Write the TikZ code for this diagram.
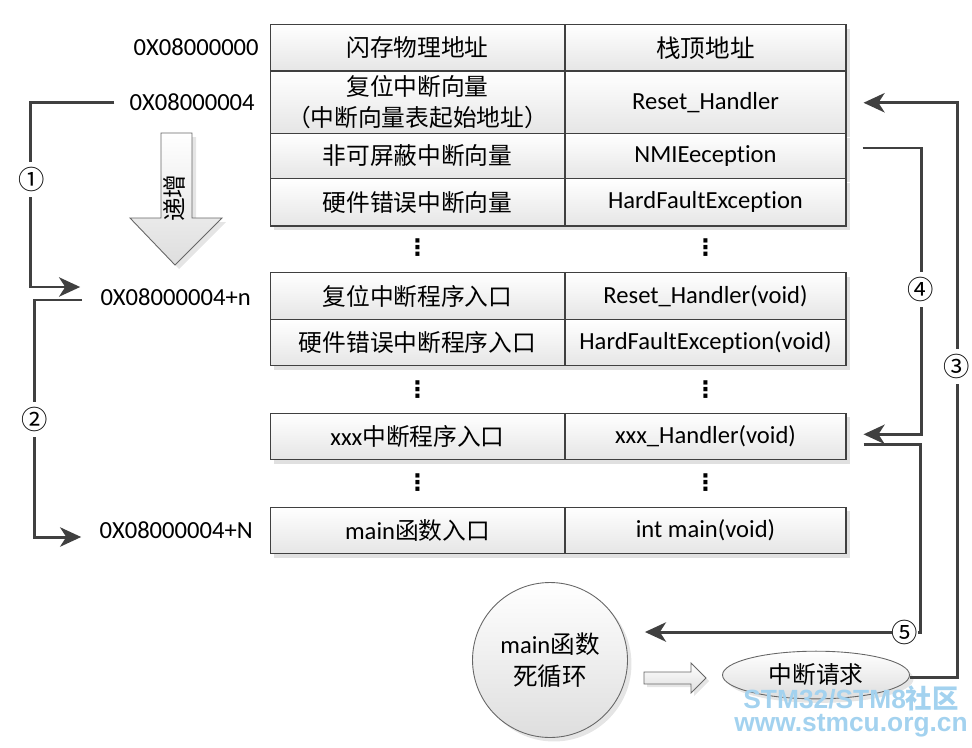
\documentclass[tikz,border=0pt]{standalone}
\usepackage{fontspec}
\setmainfont{Carlito}[Ligatures=NoCommon]
\newfontfamily\cjkfont{Noto Sans CJK SC}
\newfontfamily\wmfont{Liberation Sans}
\newfontfamily\symfont{DejaVu Sans}
\usetikzlibrary{calc,shapes.geometric,shadows,arrows.meta}
\definecolor{linkgray}{HTML}{404040}
\definecolor{wmblue}{HTML}{A3D2EF}
\tikzset{
	cell/.style={draw=linkgray, line width=0.6pt, top color=white, bottom color=black!10,
		drop shadow={shadow xshift=0.08cm, shadow yshift=-0.08cm, fill=black!12, opacity=1},
		minimum height=0.93cm, inner sep=0pt, align=center},
	lcell/.style={cell, minimum width=5.9cm, font=\cjkfont\fontsize{13.5}{18}\selectfont},
	rcell/.style={cell, minimum width=5.62cm, font=\fontsize{14}{17}\selectfont},
	addr/.style={inner sep=0pt, anchor=east, font=\fontsize{14}{17}\selectfont},
	dots/.style={inner sep=0pt, font=\symfont\bfseries\fontsize{13}{13}\selectfont},
	link/.style={draw=linkgray, line width=1.7pt},
	num/.style={fill=white, inner sep=0pt, minimum height=0.7cm, font=\cjkfont\fontsize{15}{15}\selectfont},
	soft/.style={draw=black!60, line width=0.5pt, top color=white, bottom color=black!13},
	softshadow/.style={fill=black!10},
	mark text/.style={inner sep=0pt, text=wmblue, font=\wmfont\bfseries\fontsize{15}{15}\selectfont},
}
\begin{document}
\begin{tikzpicture}[x=0.02cm, y=-0.02cm, >={Stealth[length=12pt,width=11pt,inset=3.5pt]}]
	\useasboundingbox (0,0) rectangle (972,747);

	% vector table
	\node[lcell] (flash) at (417.5,47.75) {闪存物理地址};
	\node[rcell] (stack) at (705.5,47.75) {{\cjkfont 栈顶地址}};
	\node[lcell, minimum height=1.25cm] (resetv) at (417.5,102.25) {复位中断向量\\（中断向量表起始地址）};
	\node[rcell, minimum height=1.25cm] (reset) at (705.5,102.25) {Reset\_Handler};
	\node[lcell, minimum height=0.9cm] (nmiv) at (417.5,156) {非可屏蔽中断向量};
	\node[rcell, minimum height=0.9cm] (nmi) at (705.5,156) {NMIEeception};
	\node[lcell, minimum height=0.95cm] (hardv) at (417.5,202.25) {硬件错误中断向量};
	\node[rcell, minimum height=0.95cm] (hard) at (705.5,202.25) {HardFaultException};
	\node[dots] (d1l) at (417.5,248) {⋮};
	\node[dots] (d1r) at (705.5,248) {⋮};

	% handler entries
	\node[lcell] (resete) at (417.5,296.15) {复位中断程序入口};
	\node[rcell] (resetr) at (705.5,296.15) {Reset\_Handler(void)};
	\node[lcell] (harde) at (417.5,342.65) {硬件错误中断程序入口};
	\node[rcell] (hardr) at (705.5,342.65) {HardFaultException(void)};
	\node[dots] (d2l) at (417.5,390) {⋮};
	\node[dots] (d2r) at (705.5,390) {⋮};
	\node[lcell] (xxxe) at (417.5,436.3) {{\rmfamily\fontsize{14}{17}\selectfont xxx}中断程序入口};
	\node[rcell] (xxxr) at (705.5,436.3) {xxx\_Handler(void)};
	\node[dots] (d3l) at (417.5,483) {⋮};
	\node[dots] (d3r) at (705.5,483) {⋮};
	\node[lcell] (maine) at (417.5,530.35) {{\rmfamily\fontsize{14}{17}\selectfont main}函数入口};
	\node[rcell] (mainr) at (705.5,530.35) {int main(void)};

	% addresses
	\node[addr] (a0) at (259,47) {0X08000000};
	\node[addr] (a4) at (255,101.7) {0X08000004};
	\node[addr] (an) at (251,296.7) {0X08000004+n};
	\node[addr] (aN) at (253,530) {0X08000004+N};

	% growing direction
	\fill[softshadow] (165,137) -- (196,137) -- (196,222) -- (226,222) -- (179,269) -- (134,222) -- (165,222) -- cycle;
	\shade[soft] (161,133) -- (192,133) -- (192,218) -- (222,218) -- (175,265) -- (130,218) -- (161,218) -- cycle;
	\node[rotate=90, inner sep=0pt, font=\cjkfont\fontsize{13.5}{14}\selectfont] (grow) at (174,198) {递增};

	% main loop and interrupt request
	\node[circle, soft, minimum size=3.1cm, align=center, font=\fontsize{14}{18}\selectfont,
		drop shadow={shadow xshift=0.08cm, shadow yshift=-0.08cm, fill=black!10, opacity=1}] (main) at (550,660) {main{\cjkfont 函数}\\{\cjkfont 死循环}};
	\node[ellipse, soft, minimum width=3.74cm, minimum height=0.8cm, font=\cjkfont\fontsize{13.5}{14}\selectfont,
		drop shadow={shadow xshift=0.08cm, shadow yshift=-0.08cm, fill=black!10, opacity=1}] (irq) at (816,675) {中断请求};
	\fill[softshadow] (647,675) -- (694,675) -- (694,666) -- (709,681) -- (694,696) -- (694,687) -- (647,687) -- cycle;
	\shade[soft] (644,672) -- (691,672) -- (691,663) -- (706,678) -- (691,693) -- (691,684) -- (644,684) -- cycle;

	% flow
	\draw[link,->] ($(a4.west)+(-15,1)$) -| ($(an.west)+(-70,-9.7)$) -- ($(an.west)+(-20,-9.7)$);
	\draw[link,->] ($(an.west)+(-18,3.3)$) -| ($(aN.west)+(-65,7)$) -- ($(aN.west)+(-18,7)$);
	\draw[link,->] ($(irq.east)+(0,2)$) -| ($(reset.east)+(111,0.5)$) -- ($(reset.east)+(17,0.5)$);
	\draw[link,->] ($(nmi.east)+(16,-8)$) -| ($(xxxr.east)+(75,-2)$) -- ($(xxxr.east)+(17,-2)$);
	\draw[link,->] ($(xxxr.east)+(17,8)$) -| ($(main.east)+(293,-28)$) -- ($(main.east)+(17,-28)$);
	\node[num] (n1) at (32,179) {①};
	\node[num] (n2) at (35,419) {②};
	\node[num] (n3) at (957,366) {③};
	\node[num] (n4) at (921,289) {④};
	\node[num, minimum height=0pt] (n5) at (905,632) {⑤};

	% watermark
	\node[mark text] (wm1) at (851,698) {STM32/STM8{\cjkfont\bfseries 社区}};
	\node[mark text] (wm2) at (851,726) {www.stmcu.org.cn};
\end{tikzpicture}
\end{document}
